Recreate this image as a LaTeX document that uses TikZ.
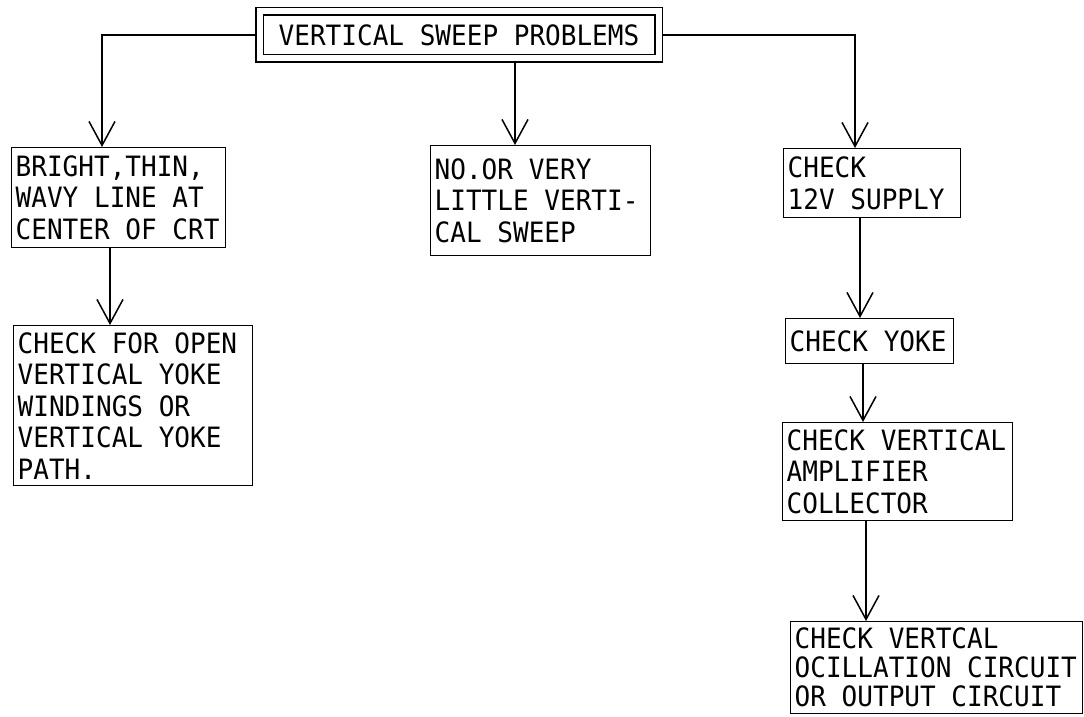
\documentclass[tikz,border=0pt]{standalone}
\usepackage{fontspec}
\setmainfont{DejaVu Sans Mono}[FakeStretch=0.93]
\usetikzlibrary{arrows.meta}
\tikzset{
  box/.style={draw, line width=1.4pt, anchor=north west, inner xsep=4pt,
    inner ysep=0pt, align=left, font={\fontsize{28}{31.5}\selectfont},
    execute at begin node={\spaceskip=0pt\xspaceskip=0pt}},
  titlebox/.style={draw, double, double distance=6pt, line width=1.3pt,
    outer sep=4.3pt, minimum width=399pt, minimum height=47pt, inner sep=0pt,
    font={\fontsize{28}{31.5}\selectfont}},
  flow/.style={line width=1.5pt, -{Straight Barb[length=24pt,width=26pt]}},
}
\begin{document}
\begin{tikzpicture}[x=1pt,y=-1pt]
  \useasboundingbox (0,0) rectangle (1084,717);

  % top of the chart
  \node[titlebox] (problems) at (459,35) {VERTICAL SWEEP PROBLEMS};

  % the three branches
  \node[box, text width=206pt, minimum height=100pt] (wavy) at (11,147)
    {BRIGHT,THIN,\\WAVY LINE AT\\CENTER OF CRT};
  \node[box, text width=231pt, minimum height=160pt] (yokepath) at (13,325)
    {CHECK FOR OPEN\\VERTICAL YOKE\\WINDINGS OR\\VERTICAL YOKE\\PATH.};
  \node[box, text width=212pt, minimum height=110pt] (nosweep) at (430,145)
    {NO.OR VERY\\LITTLE VERTI-\\CAL SWEEP};
  \node[box, text width=169pt, minimum height=69pt] (supply) at (783,148)
    {CHECK\\12V SUPPLY};
  \node[box, text width=160pt, minimum height=45pt] (yoke) at (785,318)
    {CHECK YOKE};
  \node[box, text width=222pt, minimum height=98pt] (collector) at (782,422)
    {CHECK VERTICAL\\AMPLIFIER\\COLLECTOR};
  \node[box, text width=284pt, minimum height=92pt,
    font={\fontsize{28}{29}\selectfont}] (oscill) at (790,621)
    {CHECK VERTCAL\\OCILLATION CIRCUIT\\OR OUTPUT CIRCUIT};

  % where the vertical lines run
  \coordinate (lx) at (102,0);
  \coordinate (mx) at (515,0);
  \coordinate (rx) at (855,0);
  \coordinate (ax) at (110,0);
  \coordinate (sx) at (860,0);
  \coordinate (yx) at (863,0);
  \coordinate (cx) at (866,0);

  \draw[flow] (problems.west) -| (lx |- wavy.north);
  \draw[flow] (mx |- problems.south) -- (mx |- nosweep.north);
  \draw[flow] (problems.east) -| (rx |- supply.north);
  \draw[flow] (ax |- wavy.south) -- (ax |- yokepath.north);
  \draw[flow] (sx |- supply.south) -- (sx |- yoke.north);
  \draw[flow] (yx |- yoke.south) -- (yx |- collector.north);
  \draw[flow] (cx |- collector.south) -- (cx |- oscill.north);
\end{tikzpicture}
\end{document}
